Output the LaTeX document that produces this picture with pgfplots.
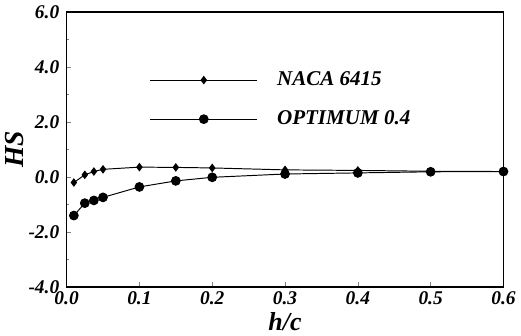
\documentclass[border=0pt]{standalone}
\usepackage{fontspec}
\setmainfont{Liberation Serif}
\usepackage{pgfplots}
\pgfplotsset{compat=1.18}
\newcommand{\tl}[1]{\textbf{\textit{#1}}}
\begin{document}
\begin{tikzpicture}
\begin{axis}[
  scale only axis,
  width=270pt, height=170pt,
  xmin=0, xmax=0.6, ymin=-4, ymax=6,
  xtick={0,0.1,...,0.6},
  ytick={-4,-2,0,2,4,6},
  minor y tick num=1,
  xticklabels={\tl{0.0},\tl{0.1},\tl{0.2},\tl{0.3},\tl{0.4},\tl{0.5},\tl{0.6}},
  yticklabels={\tl{-4.0},\tl{-2.0},\tl{0.0},\tl{2.0},\tl{4.0},\tl{6.0}},
  tick align=inside,
  xtick pos=bottom, ytick pos=left,
  major tick length=3pt, minor tick length=1.5pt,
  /pgf/number format/assume math mode=true,
  tick label style={font=\fontsize{12}{13}\selectfont\bfseries\itshape, black},
  xticklabel style={yshift=1pt},
  yticklabel style={xshift=-1pt},
  xlabel={\fontsize{16}{17}\selectfont\bfseries\itshape h/c},
  xlabel style={yshift=2pt},
  ylabel={\fontsize{17}{18}\selectfont\bfseries\itshape HS},
  ylabel style={yshift=-4pt},
  axis line style={line width=0.8pt},
  every axis plot/.append style={line width=0.6pt, black},
  legend image code/.code={\draw[mark repeat=2,mark phase=2] plot coordinates {(0pt,0pt) (33pt,0pt) (66pt,0pt)};},
  legend style={draw=none, fill=none, at={(0.19,0.795)}, anchor=north west,
    font=\fontsize{13}{14}\selectfont\bfseries\itshape, row sep=10pt,
    inner sep=0pt, nodes={inner xsep=12pt}},
  legend cell align=left,
]
\addplot[mark=diamond*, mark size=2.2pt] coordinates {
 (0.01,-0.2) (0.025,0.08) (0.0375,0.2) (0.05,0.28) (0.1,0.36) (0.15,0.35) (0.2,0.33)
 (0.3,0.26) (0.4,0.24) (0.5,0.21) (0.6,0.2)};
\addlegendentry{NACA 6415}
\addplot[mark=*, mark size=2.7pt] coordinates {
 (0.01,-1.4) (0.025,-0.95) (0.0375,-0.85) (0.05,-0.74) (0.1,-0.36) (0.15,-0.14) (0.2,-0.01)
 (0.3,0.11) (0.4,0.15) (0.5,0.19) (0.6,0.2)};
\addlegendentry{OPTIMUM 0.4}
\end{axis}
\end{tikzpicture}
\end{document}
